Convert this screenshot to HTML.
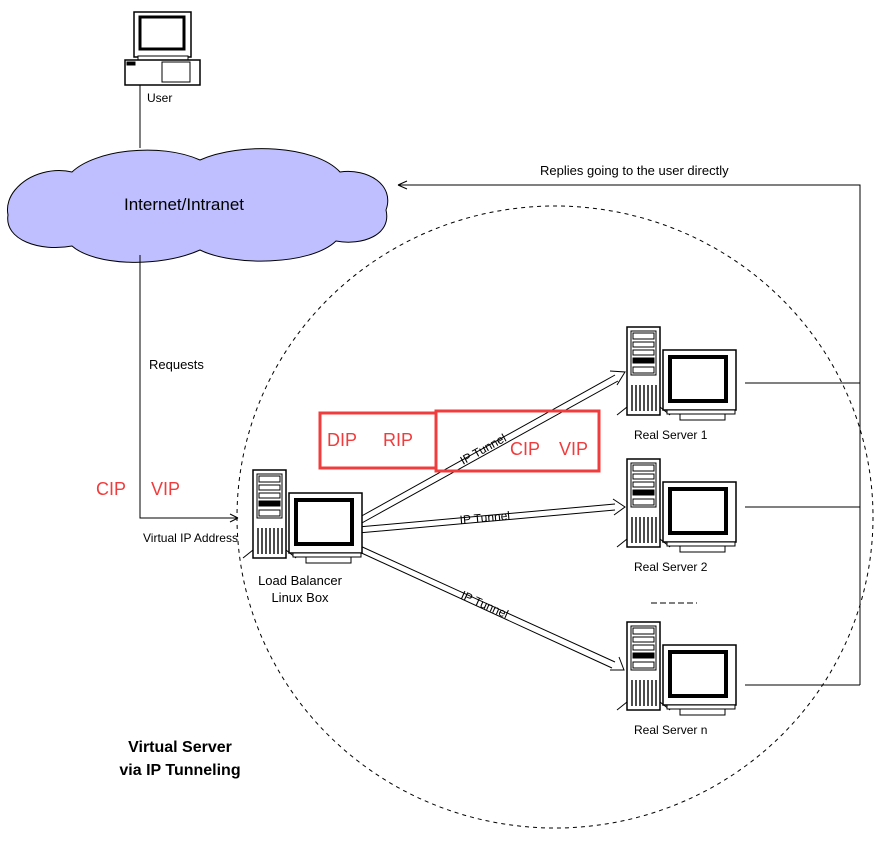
<!DOCTYPE html>
<html><head><meta charset="utf-8"><style>
body{margin:0;background:#fff}
svg{display:block}
text{font-family:"Liberation Sans",sans-serif}
</style></head><body>
<svg width="879" height="841" viewBox="0 0 879 841" xmlns="http://www.w3.org/2000/svg">
<defs>
<g id="srv" stroke="#000" fill="#fff">
 <path d="M-10,88 L0,80 M33,80 L43,88" stroke-width="1"/>
 <rect x="0" y="0" width="33" height="88" stroke-width="1.5"/>
 <rect x="4" y="4" width="25" height="44" stroke-width="1"/>
 <rect x="6" y="6" width="21" height="6" stroke-width="1"/>
 <rect x="6" y="15" width="21" height="5" stroke-width="1"/>
 <rect x="6" y="23" width="21" height="5" stroke-width="1"/>
 <rect x="6" y="31" width="21" height="5" fill="#000"/>
 <rect x="6" y="40" width="21" height="6" stroke-width="1"/>
 <g stroke-width="1.4"><path d="M5,58 V84 M9,58 V84 M13,58 V84 M17,58 V84 M21,58 V84 M25,58 V84 M29,58 V84"/></g>
 <rect x="36" y="23" width="73" height="60" stroke-width="1.5"/>
 <rect x="43" y="30" width="56" height="44" stroke-width="4"/>
 <rect x="40" y="83" width="68" height="4" stroke-width="1"/>
 <rect x="53" y="87" width="45" height="6" stroke-width="1"/>
</g>
</defs>

<!-- dashed circle -->
<ellipse cx="555" cy="517" rx="318" ry="311" fill="none" stroke="#000" stroke-width="1" stroke-dasharray="4,4"/>

<!-- user computer -->
<g stroke="#000" fill="#fff">
 <rect x="134" y="12" width="57" height="45" stroke-width="1.5"/>
 <rect x="140" y="17" width="44" height="32" stroke-width="3"/>
 <rect x="138" y="56" width="50" height="4" stroke-width="1"/>
 <rect x="125" y="60" width="75" height="25" stroke-width="1.5"/>
 <rect x="162" y="62" width="28" height="20" stroke-width="1"/>
 <rect x="127" y="62" width="8" height="3" fill="#000"/>
</g>
<text x="147" y="102" font-size="12">User</text>
<line x1="140" y1="85" x2="140" y2="148" stroke="#000"/>

<!-- cloud -->
<path d="M15,190 C30,172 55,168 72,172 C95,150 160,142 200,160 C240,142 315,145 340,172 C368,168 395,185 386,210 C392,235 362,246 336,241 C310,266 232,266 200,250 C160,268 95,266 72,246 C40,252 4,240 8,215 C6,205 10,196 15,190 Z" fill="#bfbfff" stroke="#000" stroke-width="1"/>
<text x="124" y="210" font-size="17">Internet/Intranet</text>

<!-- request path -->
<polyline points="140,255 140,518 238,518" fill="none" stroke="#000"/>
<path d="M238,518 l-8,-4 M238,518 l-8,4" stroke="#000"/>
<text x="149" y="369" font-size="13">Requests</text>
<text x="143" y="542" font-size="12">Virtual IP Address</text>

<!-- reply path -->
<polyline points="860,385 860,185 398,185" fill="none" stroke="#000"/>
<path d="M398,185 l9,-4 M398,185 l9,4" stroke="#000"/>
<line x1="860" y1="185" x2="860" y2="685" stroke="#000"/>
<line x1="745" y1="383" x2="860" y2="383" stroke="#000"/>
<line x1="745" y1="507" x2="860" y2="507" stroke="#000"/>
<line x1="745" y1="685" x2="860" y2="685" stroke="#000"/>
<text x="540" y="175" font-size="13">Replies going to the user directly</text>

<!-- tunnels -->
<g fill="none" stroke="#000" stroke-width="1">
 <path d="M358,518 L615,375 M360,524 L618,381 M610,371 L625,372 L617,385"/>
 <path d="M358,527 L615,504 M358,533 L615,510 M613,499 L625,507 L614,515"/>
 <path d="M358,545 L615,662 M355,550 L612,668 M619,657 L624,670 L610,670"/>
</g>
<text font-size="12" transform="translate(463,465) rotate(-29)">IP Tunnel</text>
<text font-size="12" transform="translate(460,524) rotate(-5)">IP Tunnel</text>
<text font-size="12" transform="translate(460,598) rotate(24)">IP Tunnel</text>

<!-- servers -->
<use href="#srv" x="627" y="327"/>
<use href="#srv" x="627" y="459"/>
<use href="#srv" x="627" y="622"/>
<use href="#srv" x="253" y="470"/>
<text x="634" y="439" font-size="12">Real Server 1</text>
<text x="634" y="571" font-size="12">Real Server 2</text>
<text x="634" y="734" font-size="12">Real Server n</text>
<line x1="651" y1="603" x2="697" y2="603" stroke="#000" stroke-dasharray="6,3"/>
<text x="300" y="585" font-size="13" text-anchor="middle">Load Balancer</text>
<text x="300" y="602" font-size="13" text-anchor="middle">Linux Box</text>

<text x="180" y="752" font-size="16" font-weight="bold" text-anchor="middle">Virtual Server</text>
<text x="180" y="775" font-size="16" font-weight="bold" text-anchor="middle">via IP Tunneling</text>

<!-- red annotations -->
<rect x="320" y="413" width="116" height="55" fill="none" stroke="#f03c3c" stroke-width="3"/>
<rect x="436" y="411" width="163" height="60" fill="none" stroke="#f03c3c" stroke-width="3"/>
<g fill="#f03c3c" font-size="18">
 <text x="327" y="446">DIP</text>
 <text x="383" y="446">RIP</text>
 <text x="510" y="455">CIP</text>
 <text x="559" y="455">VIP</text>
 <text x="96" y="495">CIP</text>
 <text x="151" y="495">VIP</text>
</g>
</svg>
</body></html>
